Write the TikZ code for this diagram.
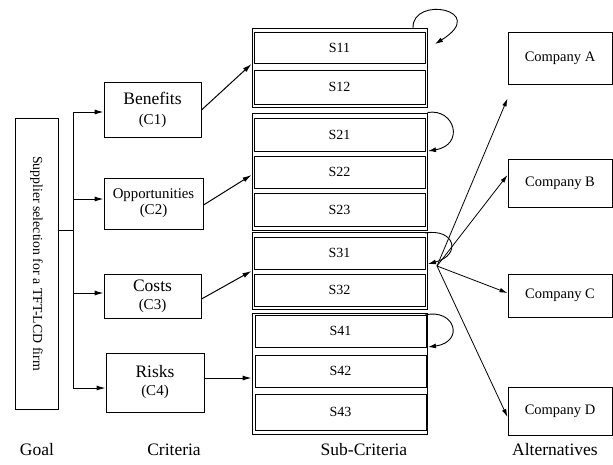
\documentclass[tikz,border=0pt]{standalone}
\usepackage{fontspec}
\setmainfont{Liberation Serif}
\usetikzlibrary{arrows.meta}
\newcommand{\fs}[1]{\fontsize{#1}{#1}\selectfont}
\newcommand{\fsl}[2]{\fontsize{#1}{#2}\selectfont}
\tikzset{
  box/.style={draw, line width=1pt, inner sep=0pt, align=center},
  sub/.style={box, minimum width=171pt},
  grp/.style={box, minimum width=175pt},
  alt/.style={box, minimum width=104pt, font=\fs{14.5}},
  crit/.style={box},
  arr/.style={line width=1pt, -{Latex[length=9pt,width=5pt]}},
  thin arr/.style={line width=0.8pt, -{Latex[length=8pt,width=4.5pt]}},
  loop arr/.style={line width=0.9pt, -{Latex[length=8pt,width=5pt]}},
  caption/.style={font=\fs{17.5}}
}
\begin{document}
\begin{tikzpicture}[x=1pt,y=-1pt]
\useasboundingbox (0,0) rectangle (613,464);

% goal
\node[box, minimum width=43pt, minimum height=291pt] (goal) at (36.5,263.5) {};
\node[rotate=-90, font=\fs{13.8}] at (goal.center) {Supplier selection for a TFT-LCD firm};

% criteria
\node[crit, minimum width=97pt, minimum height=55pt, font=\fsl{15}{20}] (c1) at (152.5,109.5)
  {{\fs{17.5}Benefits}\\(C1)};
\node[crit, minimum width=99pt, minimum height=51pt, font=\fsl{15}{16}] (c2) at (153.5,203.5)
  {{\fs{14.8}Opportunities}\\(C2)};
\node[crit, minimum width=97pt, minimum height=44pt, font=\fsl{15}{18}] (c3) at (152.5,296)
  {{\fs{17.5}Costs}\\(C3)};
\node[crit, minimum width=98pt, minimum height=59pt, font=\fsl{15}{18}] (c4) at (155,382.5)
  {{\fs{17.5}Risks}\\(C4)};

% sub-criteria groups
\node[grp, minimum height=79pt]  (g1) at (339.5,67.5) {};
\node[grp, minimum height=117pt] (g2) at (339.5,171.5) {};
\node[grp, minimum height=77pt]  (g3) at (339.5,270.5) {};
\node[grp, minimum height=121pt] (g4) at (339.5,373.5) {};

\begin{scope}[every node/.append style={font=\fs{14}}]
\node[sub, minimum height=31pt] (s11) at (339.5,47.5) {S11};
\node[sub, minimum height=34pt] (s12) at (339.5,87)   {S12};
\node[sub, minimum height=33pt] (s21) at (339.5,134.5) {S21};
\node[sub, minimum height=32pt] (s22) at (339.5,172)  {S22};
\node[sub, minimum height=33pt] (s23) at (339.5,209.5) {S23};
\node[sub, minimum height=32pt] (s31) at (339.5,253)  {S31};
\node[sub, minimum height=32pt] (s32) at (339.5,290)  {S32};
\node[sub, minimum height=32pt] (s41) at (340.5,331)  {S41};
\node[sub, minimum height=32pt] (s42) at (340.5,371)  {S42};
\node[sub, minimum height=36pt] (s43) at (340.5,412)  {S43};
\end{scope}

% alternatives
\node[alt, minimum height=52pt] (ca) at (560,58)    {Company A};
\node[alt, minimum height=48pt] (cb) at (560,183)   {Company B};
\node[alt, minimum height=43pt] (cc) at (560,295.5) {Company C};
\node[alt, minimum height=48pt] (cd) at (560,411)   {Company D};

% goal to criteria
\coordinate (j) at (73,230);
\coordinate (jt) at (73,112);
\coordinate (jb) at (73,388);
\draw[line width=1pt] (goal.east |- j) -- (j);
\draw[line width=1pt] (jt) -- (jb);
\draw[arr] (jt) -- (c1.west |- jt);
\draw[arr] (73,199) -- (c2.west |- 0,199);
\draw[arr] (73,293) -- (c3.west |- 0,293);
\draw[arr] (jb) -- (c4.west |- jb);

% criteria to sub-criteria
\draw[arr] (c1.east |- 0,110) -- (g1.west |- 0,64);
\draw[arr] (c2.east |- 0,205) -- (g2.west |- 0,175);
\draw[arr] (c3.east |- 0,299) -- (g3.west |- 0,271);
\draw[arr] (c4.east |- 0,378) -- (g4.west |- 0,378);

% inner dependence loops
\draw[loop arr] (413,28) .. controls (412,-5) and (490,10) .. (435,44);
\draw[loop arr] (g2.north east) .. controls (455,108) and (465,145) .. (428,151);
\draw[loop arr] (425,233) .. controls (455,228) and (462,255) .. (428,264);
\draw[loop arr] (425,315) .. controls (455,308) and (465,342) .. (428,347);

% sub-criteria to alternatives
\coordinate (hub) at (437,266);
\draw[thin arr] (hub) -- ([yshift=-14pt]ca.south west);
\draw[thin arr] (hub) -- ([yshift=8pt]cb.west);
\draw[thin arr] (hub) -- ([yshift=2.5pt]cc.west);
\draw[thin arr] (hub) -- ([yshift=-6pt]cd.west);

% level captions
\node[caption] at (37,450) {Goal};
\node[caption] at (174,450) {Criteria};
\node[caption] at (364,450) {Sub-Criteria};
\node[caption] at (555,450) {Alternatives};
\end{tikzpicture}
\end{document}
